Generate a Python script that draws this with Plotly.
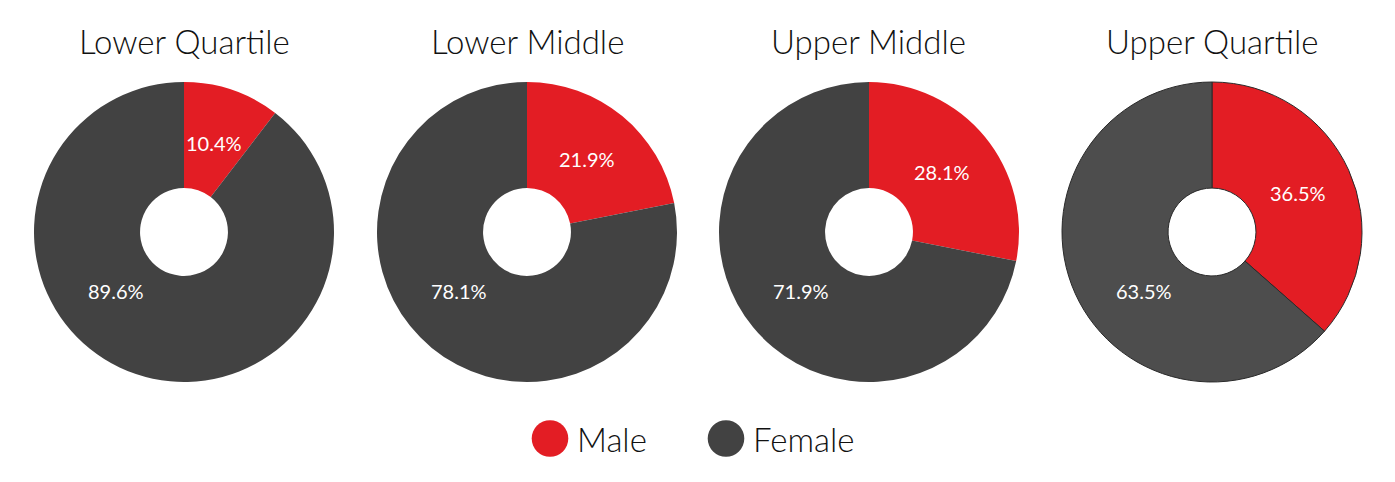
import math
import plotly.graph_objects as go

groups = ["Lower Quartile", "Lower Middle", "Upper Middle", "Upper Quartile"]
labels = ["Male", "Female"]
male_pct = [10.4, 21.9, 28.1, 36.5]
female_pct = [89.6, 78.1, 71.9, 63.5]
colors = ["#E31D24", "#424242"]
last_female_color = "#4D4D4D"

W, H = 1395, 482
centers_px = [184, 527, 869, 1212]
R = 150
cy = 232
HOLE = 0.293
FONT = "Lato"
male_label_r = 94          # px from centre along slice mid-angle
female_label_off = (-68, 59)  # px offset of the Female label from centre

fig = go.Figure()
for i, g in enumerate(groups):
    cx = centers_px[i]
    fcol = last_female_color if i == 3 else colors[1]
    fig.add_trace(go.Pie(
        labels=labels,
        values=[male_pct[i], female_pct[i]],
        sort=False,
        direction="clockwise",
        rotation=0,
        hole=HOLE,
        marker=dict(colors=[colors[0], fcol],
                    line=dict(color="#2a2a2a", width=1 if i == 3 else 0)),
        textinfo="none",
        showlegend=False,
        hoverinfo="label+value",
        domain=dict(x=[(cx - R) / W, (cx + R) / W],
                    y=[(H - (cy + R)) / H, (H - (cy - R)) / H]),
    ))
    # title
    fig.add_annotation(x=cx / W, y=1 - 41 / H, xref="paper", yref="paper",
                       text=g, showarrow=False, xanchor="center", yanchor="middle",
                       font=dict(size=33, color="#111111", family=FONT, weight=300))
    # value labels
    tot = male_pct[i] + female_pct[i]
    mid = 2 * math.pi * (male_pct[i] / tot) / 2
    mx = cx + male_label_r * math.sin(mid)
    my = cy - male_label_r * math.cos(mid)
    fig.add_annotation(x=mx / W, y=1 - my / H, xref="paper", yref="paper",
                       text=f"{male_pct[i]:.1f}%", showarrow=False,
                       xanchor="center", yanchor="middle",
                       font=dict(size=20, color="white", family=FONT, weight=400))
    fx = cx + female_label_off[0]
    fy = cy + female_label_off[1]
    fig.add_annotation(x=fx / W, y=1 - fy / H, xref="paper", yref="paper",
                       text=f"{female_pct[i]:.1f}%", showarrow=False,
                       xanchor="center", yanchor="middle",
                       font=dict(size=20, color="white", family=FONT, weight=400))

# legend drawn as circles + text
leg = [(550, "Male", colors[0]), (726, "Female", colors[1])]
ly = 438.5
for x, t, c in leg:
    fig.add_shape(type="circle", xref="paper", yref="paper",
                  x0=(x - 18.3) / W, x1=(x + 18.3) / W,
                  y0=1 - (ly + 18.3) / H, y1=1 - (ly - 18.3) / H,
                  fillcolor=c, line=dict(width=0))
    fig.add_annotation(x=(x + 25) / W, y=1 - ly / H, xref="paper", yref="paper",
                       text=t, showarrow=False, xanchor="left", yanchor="middle",
                       font=dict(size=33, color="#111111", family=FONT, weight=300))

fig.update_layout(width=W, height=H, margin=dict(l=0, r=0, t=0, b=0),
                  paper_bgcolor="white", plot_bgcolor="white")
fig.write_html("out.html", config={"displayModeBar": False},
               post_script="document.body.style.margin='0';")
